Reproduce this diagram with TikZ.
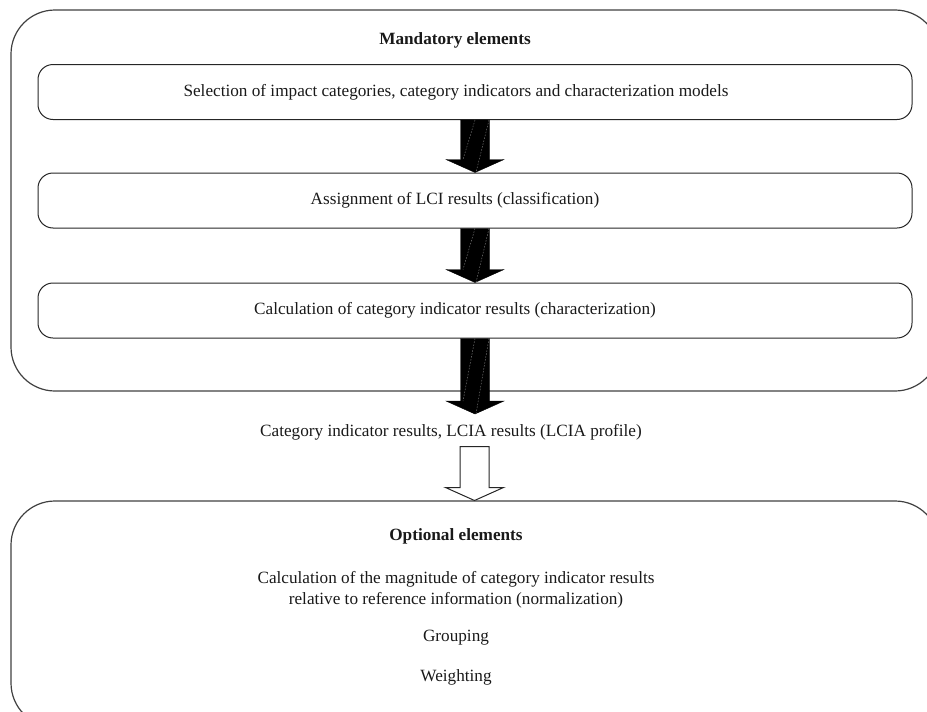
\documentclass[tikz,border=0pt]{standalone}
\usepackage{fontspec}
\setmainfont{Liberation Serif}
\usetikzlibrary{calc}
\tikzset{
  bigbox/.style={draw=black!75, line width=1.2pt, rounded corners=44pt, minimum width=928pt, inner sep=0pt},
  stagebox/.style={draw=black!85, line width=1pt, rounded corners=15pt, minimum width=874pt, minimum height=55pt, inner sep=0pt},
  txt/.style={font=\fontsize{17.2}{20}\selectfont, inner sep=0pt, text=black!90},
  title/.style={txt, font=\fontsize{17.2}{20}\selectfont\bfseries},
  fatarrow/.style={fill=black, draw=black, line width=0.4pt, line join=miter},
  hollowarrow/.style={fill=white, draw=black!85, line width=1pt, line join=miter},
  seam/.style={draw=black!55, line width=0.5pt, dash pattern=on 1.5pt off 1.5pt}
}
% block arrow from #1 (tail, centre of shaft) to #2 (tip)
\newcommand\blockarrow[3]{%
  \path[#3] ($(#1)+(-14.5,0)$) -- ($(#2)+(-14.5,-13)$) -- ($(#2)+(-29,-13)$) -- (#2)
    -- ($(#2)+(29,-13)$) -- ($(#2)+(14.5,-13)$) -- ($(#1)+(14.5,0)$) -- cycle;}
% faint diagonal seams across a filled arrow
\newcommand\seams[2]{%
  \draw[seam] ($(#1)+(0,0)$) -- ($(#2)+(-12,-13)$);
  \draw[seam] ($(#1)+(14,0)$) -- ($(#2)+(1,0)$);}
\begin{document}
\begin{tikzpicture}[x=1pt,y=-1pt]
\useasboundingbox (0,0) rectangle (927,712);

% containers
\node[bigbox, minimum height=381pt] (mand) at (475,200.5) {};
\node[bigbox, minimum height=226pt] (opt) at (475,614) {};

% mandatory stages
\node[title] (mtitle) at (455,40) {Mandatory elements};
\node[stagebox] (b1) at (475,92) {};
\node[stagebox] (b2) at (475,200.5) {};
\node[stagebox] (b3) at (475,310.5) {};
\node[txt] (t1) at (456,92) {Selection of impact categories, category indicators and characterization models};
\node[txt] (t2) at (455,200.5) {Assignment of LCI results (classification)};
\node[txt] (t3) at (455,310.5) {Calculation of category indicator results (characterization)};

% flow between stages
\coordinate (tip3) at (475,414);
\coordinate (h0) at (474.5,446.5);
\coordinate (h1) at (474.5,500.5);
\blockarrow{b1.south}{b2.north}{fatarrow}
\blockarrow{b2.south}{b3.north}{fatarrow}
\blockarrow{b3.south}{tip3}{fatarrow}
\seams{b1.south}{b2.north}
\seams{b2.south}{b3.north}
\seams{b3.south}{tip3}

\node[txt] (profile) at (451,432) {Category indicator results, LCIA results (LCIA profile)};
\blockarrow{h0}{h1}{hollowarrow}

% optional elements
\node[title] (otitle) at (456,536) {Optional elements};
\node[txt, align=center, font=\fontsize{17.2}{20.5}\selectfont] (norm) at (456,590) {Calculation of the magnitude of category indicator results\\relative to reference information (normalization)};
\node[txt] (group) at (456,638) {Grouping};
\node[txt] (weight) at (456,677) {Weighting};
\end{tikzpicture}
\end{document}
